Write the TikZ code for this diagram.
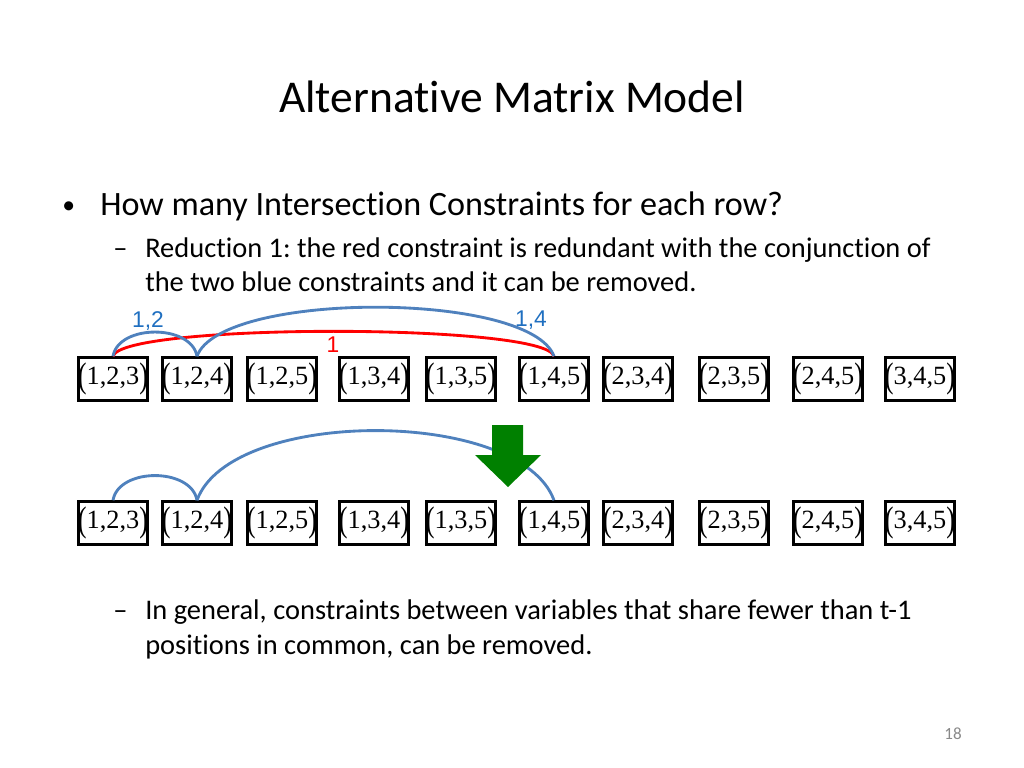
\documentclass[tikz,border=0pt]{standalone}
\usepackage{fontspec}
\setmainfont{Carlito}[Ligatures=NoCommon]
\newfontfamily\tupfont{Liberation Serif}
\newfontfamily\labfont{Liberation Sans}
\usepackage{tikz}
\usetikzlibrary{positioning, arrows.meta}
\usepackage{xcolor}
\definecolor{arcblue}{HTML}{4F81BD}
\definecolor{labblue}{HTML}{1F6FC0}
\definecolor{arrowgreen}{RGB}{0,128,0}
\definecolor{numgray}{HTML}{898989}

\newcommand{\tup}[1]{\makebox[0pt][c]{\raisebox{-0.12em}{\scalebox{1}[1.35]{(}}#1\raisebox{-0.12em}{\scalebox{1}[1.35]{)}}}}
\frenchspacing

\begin{document}
\begin{tikzpicture}[
    x=0.703125pt, y=-0.703125pt,
    every node/.style={inner sep=0pt},
    tuple/.style={draw, line width=2pt, minimum width=49pt, minimum height=30pt, font=\tupfont\fontsize{18.5}{22}\selectfont},
    txt/.style={anchor=base west, font=\fontsize{20}{24}\selectfont},
    arc/.style={arcblue, line width=2pt},
    lab/.style={font=\labfont\fontsize{16}{18}\selectfont}
]
    \useasboundingbox (0,0) rectangle (1024,768);
    % Title and bullets
    \node[anchor=base, font=\fontsize{32}{38}\selectfont] (title) at (512,113) {Alternative Matrix Model};
    \node[anchor=base west, font=\fontsize{18}{22}\selectfont] (dot) at (62,214) {\textbullet};
    \node[anchor=base west, font=\fontsize{24}{28}\selectfont] (q) at (100,216) {How many Intersection Constraints for each row?};
    \node[txt] (d1) at (113,258) {--};
    \node[txt] (r1) at (145,258) {Reduction 1: the red constraint is redundant with the conjunction of};
    \node[txt] (r2) at (145,291) {the two blue constraints and it can be removed.};

    % Top row of variables
    \node[tuple] (t1) at (113,379) {\tup{1,2,3}};
    \node[tuple] (t2) at (197,379) {\tup{1,2,4}};
    \node[tuple] (t3) at (282,379) {\tup{1,2,5}};
    \node[tuple] (t4) at (374,379) {\tup{1,3,4}};
    \node[tuple] (t5) at (461,379) {\tup{1,3,5}};
    \node[tuple] (t6) at (554,379) {\tup{1,4,5}};
    \node[tuple] (t7) at (638,379) {\tup{2,3,4}};
    \node[tuple] (t8) at (734,379) {\tup{2,3,5}};
    \node[tuple] (t9) at (828,379) {\tup{2,4,5}};
    \node[tuple] (t10) at (920,379) {\tup{3,4,5}};

    \draw[red, line width=2pt] (t1.north) to[out=75, in=105, looseness=0.2] (t6.north);
    \draw[arc] (t1.north) to[out=80, in=100, looseness=1.0] (t2.north);
    \draw[arc] (t2.north) to[out=70, in=110, looseness=0.5] (t6.north);
    \node[lab, labblue] (l12) at (148,321) {1,2};
    \node[lab, labblue] (l14) at (531,320) {1,4};
    \node[lab, red] (l1) at (333,345) {1};

    % Bottom row of variables
    \node[tuple] (b1) at (113,523) {\tup{1,2,3}};
    \node[tuple] (b2) at (197,523) {\tup{1,2,4}};
    \node[tuple] (b3) at (282,523) {\tup{1,2,5}};
    \node[tuple] (b4) at (374,523) {\tup{1,3,4}};
    \node[tuple] (b5) at (461,523) {\tup{1,3,5}};
    \node[tuple] (b6) at (554,523) {\tup{1,4,5}};
    \node[tuple] (b7) at (638,523) {\tup{2,3,4}};
    \node[tuple] (b8) at (734,523) {\tup{2,3,5}};
    \node[tuple] (b9) at (828,523) {\tup{2,4,5}};
    \node[tuple] (b10) at (920,523) {\tup{3,4,5}};

    \draw[arc] (b1.north) to[out=80, in=100, looseness=1.02] (b2.north);
    \draw[arc] (b2.north) to[out=70, in=110, looseness=0.71] (b6.north);

    % green arrow over the arc
    \fill[arrowgreen] (492,425) -- (523,425) -- (523,455) -- (541,455) -- (508,487) -- (475,455) -- (492,455) -- cycle;

    \node[txt] (d2) at (113,619) {--};
    \node[txt] (g1) at (145,619) {In general, constraints between variables that share fewer than t-1};
    \node[txt] (g2) at (145,654) {positions in common, can be removed.};

    \node[font=\fontsize{12}{14}\selectfont, numgray] (page) at (953,734) {18};
\end{tikzpicture}
\end{document}
